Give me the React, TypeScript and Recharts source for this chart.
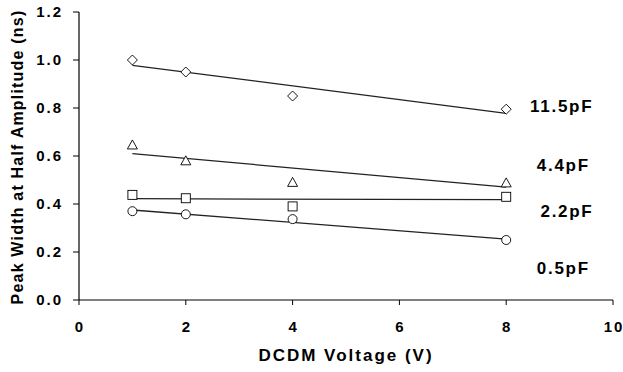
import React from 'react';
import {
  ScatterChart,
  Scatter,
  XAxis,
  YAxis,
  ReferenceDot,
  Label,
} from 'recharts';

// DCDM voltage (V) for each measurement
const voltage = [1, 2, 4, 8];

// peak width at half amplitude (ns), one array per capacitance
const width115 = [1.0, 0.95, 0.85, 0.795];
const width44 = [0.646, 0.58, 0.49, 0.488];
const width22 = [0.438, 0.424, 0.39, 0.43];
const width05 = [0.37, 0.357, 0.337, 0.25];

// trend line end points
const trendX = [1, 8];
const trend115 = [0.978, 0.778];
const trend44 = [0.61, 0.47];
const trend22 = [0.422, 0.418];
const trend05 = [0.375, 0.254];

const xTicks = [0, 2, 4, 6, 8, 10];
const yTicks = [0, 0.2, 0.4, 0.6, 0.8, 1.0, 1.2];

const seriesLabels = ['11.5pF', '4.4pF', '2.2pF', '0.5pF'];
const labelX = [9.02, 9.05, 9.12, 9.05];
const labelY = [0.808, 0.5625, 0.371, 0.133];

const FONT = '"Liberation Sans", Arial, sans-serif';
const INK = '#000';

const toPoints = (xs: number[], ys: number[]) => xs.map((x, i) => ({ x, y: ys[i] }));

const Diamond = (p: any) => (
  <path
    d={`M${p.cx},${p.cy - 5} L${p.cx + 5},${p.cy} L${p.cx},${p.cy + 5} L${p.cx - 5},${p.cy} Z`}
    fill="#fff"
    stroke={INK}
    strokeWidth={0.9}
  />
);

const Triangle = (p: any) => (
  <path
    d={`M${p.cx},${p.cy - 5} L${p.cx + 5},${p.cy + 4} L${p.cx - 5},${p.cy + 4} Z`}
    fill="#fff"
    stroke={INK}
    strokeWidth={0.9}
  />
);

const Square = (p: any) => (
  <rect x={p.cx - 4.5} y={p.cy - 4.5} width={9} height={9} fill="#fff" stroke={INK} strokeWidth={0.9} />
);

const Circle = (p: any) => (
  <circle cx={p.cx} cy={p.cy} r={4.5} fill="#fff" stroke={INK} strokeWidth={0.9} />
);

const NoDot = () => <g />;

const XTick = (p: any) => (
  <text
    x={p.x + 1}
    y={p.y + 25}
    textAnchor="middle"
    fontFamily={FONT}
    fontWeight="bold"
    fontSize={15}
    letterSpacing={2}
    fill={INK}
  >
    {p.payload.value}
  </text>
);

const YTick = (p: any) => (
  <text
    x={p.x - 8}
    y={p.y + 5}
    textAnchor="end"
    fontFamily={FONT}
    fontWeight="bold"
    fontSize={15}
    letterSpacing={2}
    fill={INK}
  >
    {Number(p.payload.value).toFixed(1)}
  </text>
);

const trendLine = { stroke: '#222', strokeWidth: 1.3 };

export default function App() {
  return (
    <div style={{ position: 'absolute', left: 0, top: 0, background: '#fff' }}>
      <ScatterChart width={623} height={372} margin={{ top: 12, right: 10, bottom: 0, left: 0 }}>
        <XAxis
          type="number"
          dataKey="x"
          domain={[0, 10]}
          ticks={xTicks}
          interval={0}
          tickSize={5}
          tick={<XTick />}
          axisLine={{ stroke: INK, strokeWidth: 1.2 }}
          tickLine={{ stroke: INK }}
          height={72}
        >
          <Label
            content={() => (
              <text
                x={346}
                y={361}
                textAnchor="middle"
                fontFamily={FONT}
                fontWeight="bold"
                fontSize={17}
                letterSpacing={2}
                fill={INK}
              >
                DCDM Voltage (V)
              </text>
            )}
          />
        </XAxis>
        <YAxis
          type="number"
          dataKey="y"
          domain={[0, 1.2]}
          ticks={yTicks}
          interval={0}
          tickSize={6}
          tick={<YTick />}
          axisLine={{ stroke: INK, strokeWidth: 1.2 }}
          tickLine={{ stroke: INK }}
          width={79}
        >
          <Label
            content={() => (
              <text
                x={23}
                y={157}
                transform="rotate(-90 23 157)"
                textAnchor="middle"
                fontFamily={FONT}
                fontWeight="bold"
                fontSize={16}
                letterSpacing={1.2}
                fill={INK}
              >
                Peak Width at Half Amplitude (ns)
              </text>
            )}
          />
        </YAxis>

        <Scatter data={toPoints(trendX, trend115)} line={trendLine} shape={<NoDot />} isAnimationActive={false} />
        <Scatter data={toPoints(trendX, trend44)} line={trendLine} shape={<NoDot />} isAnimationActive={false} />
        <Scatter data={toPoints(trendX, trend22)} line={trendLine} shape={<NoDot />} isAnimationActive={false} />
        <Scatter data={toPoints(trendX, trend05)} line={trendLine} shape={<NoDot />} isAnimationActive={false} />

        <Scatter data={toPoints(voltage, width115)} shape={<Diamond />} isAnimationActive={false} />
        <Scatter data={toPoints(voltage, width44)} shape={<Triangle />} isAnimationActive={false} />
        <Scatter data={toPoints(voltage, width22)} shape={<Square />} isAnimationActive={false} />
        <Scatter data={toPoints(voltage, width05)} shape={<Circle />} isAnimationActive={false} />

        {seriesLabels.map((name, i) => (
          <ReferenceDot
            key={name}
            x={labelX[i]}
            y={labelY[i]}
            ifOverflow="visible"
            shape={(p: any) => (
              <text
                x={p.cx + 1}
                y={p.cy + 6}
                textAnchor="middle"
                fontFamily={FONT}
                fontWeight="bold"
                fontSize={17}
                letterSpacing={1.7}
                fill={INK}
              >
                {name}
              </text>
            )}
          />
        ))}
      </ScatterChart>
    </div>
  );
}
